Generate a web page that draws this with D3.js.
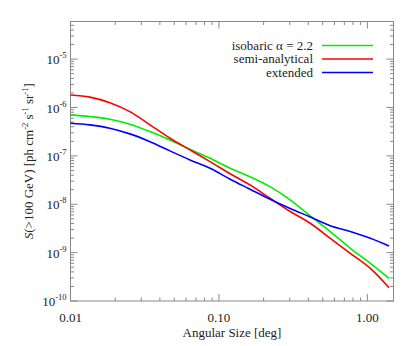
<!DOCTYPE html>
<html>
<head>
<meta charset="utf-8">
<script src="https://cdn.jsdelivr.net/npm/d3@7"></script>
<style>
  body { margin: 0; background: #fff; }
  svg text { fill: #222; }
</style>
</head>
<body>
<svg id="chart"></svg>
<script>
// angular size [deg]
const angles = [0.01, 0.0135, 0.0184, 0.0251, 0.0343, 0.0468, 0.0638, 0.0871, 0.119, 0.162, 0.221, 0.302, 0.412, 0.562, 0.767, 1.047, 1.4];
// S(>100 GeV)
const isobaric = [7.05e-7, 6.5e-7, 5.74e-7, 4.52e-7, 3.18e-7, 2.14e-7, 1.37e-7, 8.95e-8, 5.56e-8, 3.72e-8, 2.31e-8, 1.23e-8, 5.73e-9, 2.72e-9, 1.23e-9, 6.02e-10, 2.95e-10];
const semiAnalytical = [1.82e-6, 1.64e-6, 1.26e-6, 8.24e-7, 4.38e-7, 2.32e-7, 1.33e-7, 7.62e-8, 4.28e-8, 2.51e-8, 1.33e-8, 7.1e-9, 4.05e-9, 1.98e-9, 9.7e-10, 4.74e-10, 1.88e-10];
const extended = [4.74e-7, 4.38e-7, 3.74e-7, 2.85e-7, 1.97e-7, 1.27e-7, 8.26e-8, 5.56e-8, 3.3e-8, 2.05e-8, 1.27e-8, 8.2e-9, 5.47e-9, 3.61e-9, 2.72e-9, 1.98e-9, 1.37e-9];

const seriesNames = ["isobaric \u03b1 = 2.2", "semi-analytical", "extended"];
const seriesColors = ["#00ee00", "#ff0000", "#0000ff"];
const seriesValues = [isobaric, semiAnalytical, extended];

const xMajor = [0.01, 0.1, 1];
const xLabels = ["0.01", "0.10", "1.00"];
const yMajorExp = [-10, -9, -8, -7, -6, -5];

const width = 415, height = 346;
const margin = { top: 21.5, right: 21.5, bottom: 45, left: 70.5 };
const serif = "Liberation Serif";

const svg = d3.select("#chart")
  .attr("width", width)
  .attr("height", height)
  .attr("font-family", serif);

const x = d3.scaleLog().domain([0.01, 1.5]).range([margin.left, width - margin.right]);
const y = d3.scaleLog().domain([1e-10, 6e-5]).range([height - margin.bottom, margin.top]);

const axisColor = "#888";

// 小刻度
const xMinor = [];
[0.01, 0.1, 1].forEach(d => { for (let k = 2; k <= 9; k++) { const v = d * k; if (v < 1.5) xMinor.push(v); } });
const yMinor = [];
yMajorExp.forEach(e => { for (let k = 2; k <= 9; k++) { const v = k * Math.pow(10, e); if (v <= 6e-5) yMinor.push(v); } });

const x0 = x.range()[0], x1 = x.range()[1];
const y0 = y.range()[0], y1 = y.range()[1];

const ticks = svg.append("g").attr("stroke", axisColor).attr("stroke-width", 1);
function xTick(v, len) {
  ticks.append("line").attr("x1", x(v)).attr("x2", x(v)).attr("y1", y0).attr("y2", y0 - len);
  ticks.append("line").attr("x1", x(v)).attr("x2", x(v)).attr("y1", y1).attr("y2", y1 + len);
}
function yTick(v, len) {
  ticks.append("line").attr("y1", y(v)).attr("y2", y(v)).attr("x1", x0).attr("x2", x0 + len);
  ticks.append("line").attr("y1", y(v)).attr("y2", y(v)).attr("x1", x1).attr("x2", x1 - len);
}
xMajor.forEach(v => xTick(v, 7));
xMinor.forEach(v => xTick(v, 3.5));
yMajorExp.forEach(e => yTick(Math.pow(10, e), 7));
yMinor.forEach(v => yTick(v, 3.5));

svg.append("rect")
  .attr("x", x0).attr("y", y1)
  .attr("width", x1 - x0).attr("height", y0 - y1)
  .attr("fill", "none").attr("stroke", axisColor).attr("stroke-width", 1);

// 刻度标签
svg.append("g").selectAll("text")
  .data(xMajor)
  .join("text")
  .attr("x", d => x(d))
  .attr("y", y0 + 21)
  .attr("text-anchor", "middle")
  .attr("font-family", serif)
  .attr("font-size", 13)
  .text((d, i) => xLabels[i]);

const yLab = svg.append("g").selectAll("text")
  .data(yMajorExp)
  .join("text")
  .attr("x", x0 - 4)
  .attr("y", d => y(Math.pow(10, d)) + 5)
  .attr("text-anchor", "end")
  .attr("font-family", serif)
  .attr("font-size", 13);
yLab.append("tspan").text("10");
yLab.append("tspan").attr("dy", -6).attr("font-size", 8.5).text(d => "-" + (-d));

// 轴标题
svg.append("text")
  .attr("x", (x0 + x1) / 2)
  .attr("y", y0 + 36)
  .attr("text-anchor", "middle")
  .attr("font-family", serif)
  .attr("font-size", 13)
  .text("Angular Size [deg]");

const yt = svg.append("text")
  .attr("transform", `translate(33,${(y0 + y1) / 2}) rotate(-90)`)
  .attr("text-anchor", "middle")
  .attr("font-family", serif)
  .attr("font-size", 13);
yt.append("tspan").attr("font-style", "italic").text("S");
yt.append("tspan").text("(>100 GeV) [ph cm");
yt.append("tspan").attr("dy", -5).attr("font-size", 8.5).text("-2");
yt.append("tspan").attr("dy", 5).text(" s");
yt.append("tspan").attr("dy", -5).attr("font-size", 8.5).text("-1");
yt.append("tspan").attr("dy", 5).text(" sr");
yt.append("tspan").attr("dy", -5).attr("font-size", 8.5).text("-1");
yt.append("tspan").attr("dy", 5).text("]");

// 曲线
const line = d3.line()
  .curve(d3.curveCatmullRom.alpha(0.5))
  .x((d, i) => x(angles[i]))
  .y(d => y(d));

svg.append("g").selectAll("path")
  .data(seriesValues)
  .join("path")
  .attr("fill", "none")
  .attr("stroke", (d, i) => seriesColors[i])
  .attr("stroke-width", 1.6)
  .attr("d", line);

// 图例
const legend = svg.append("g").selectAll("g")
  .data(seriesNames)
  .join("g")
  .attr("transform", (d, i) => `translate(0,${45.5 + i * 13.5})`);
legend.append("text")
  .attr("x", 313)
  .attr("y", 4)
  .attr("text-anchor", "end")
  .attr("font-family", serif)
  .attr("font-size", 13)
  .text(d => d);
legend.append("line")
  .attr("x1", 322).attr("x2", 373)
  .attr("stroke", (d, i) => seriesColors[i])
  .attr("stroke-width", 1.6);
</script>
</body>
</html>
